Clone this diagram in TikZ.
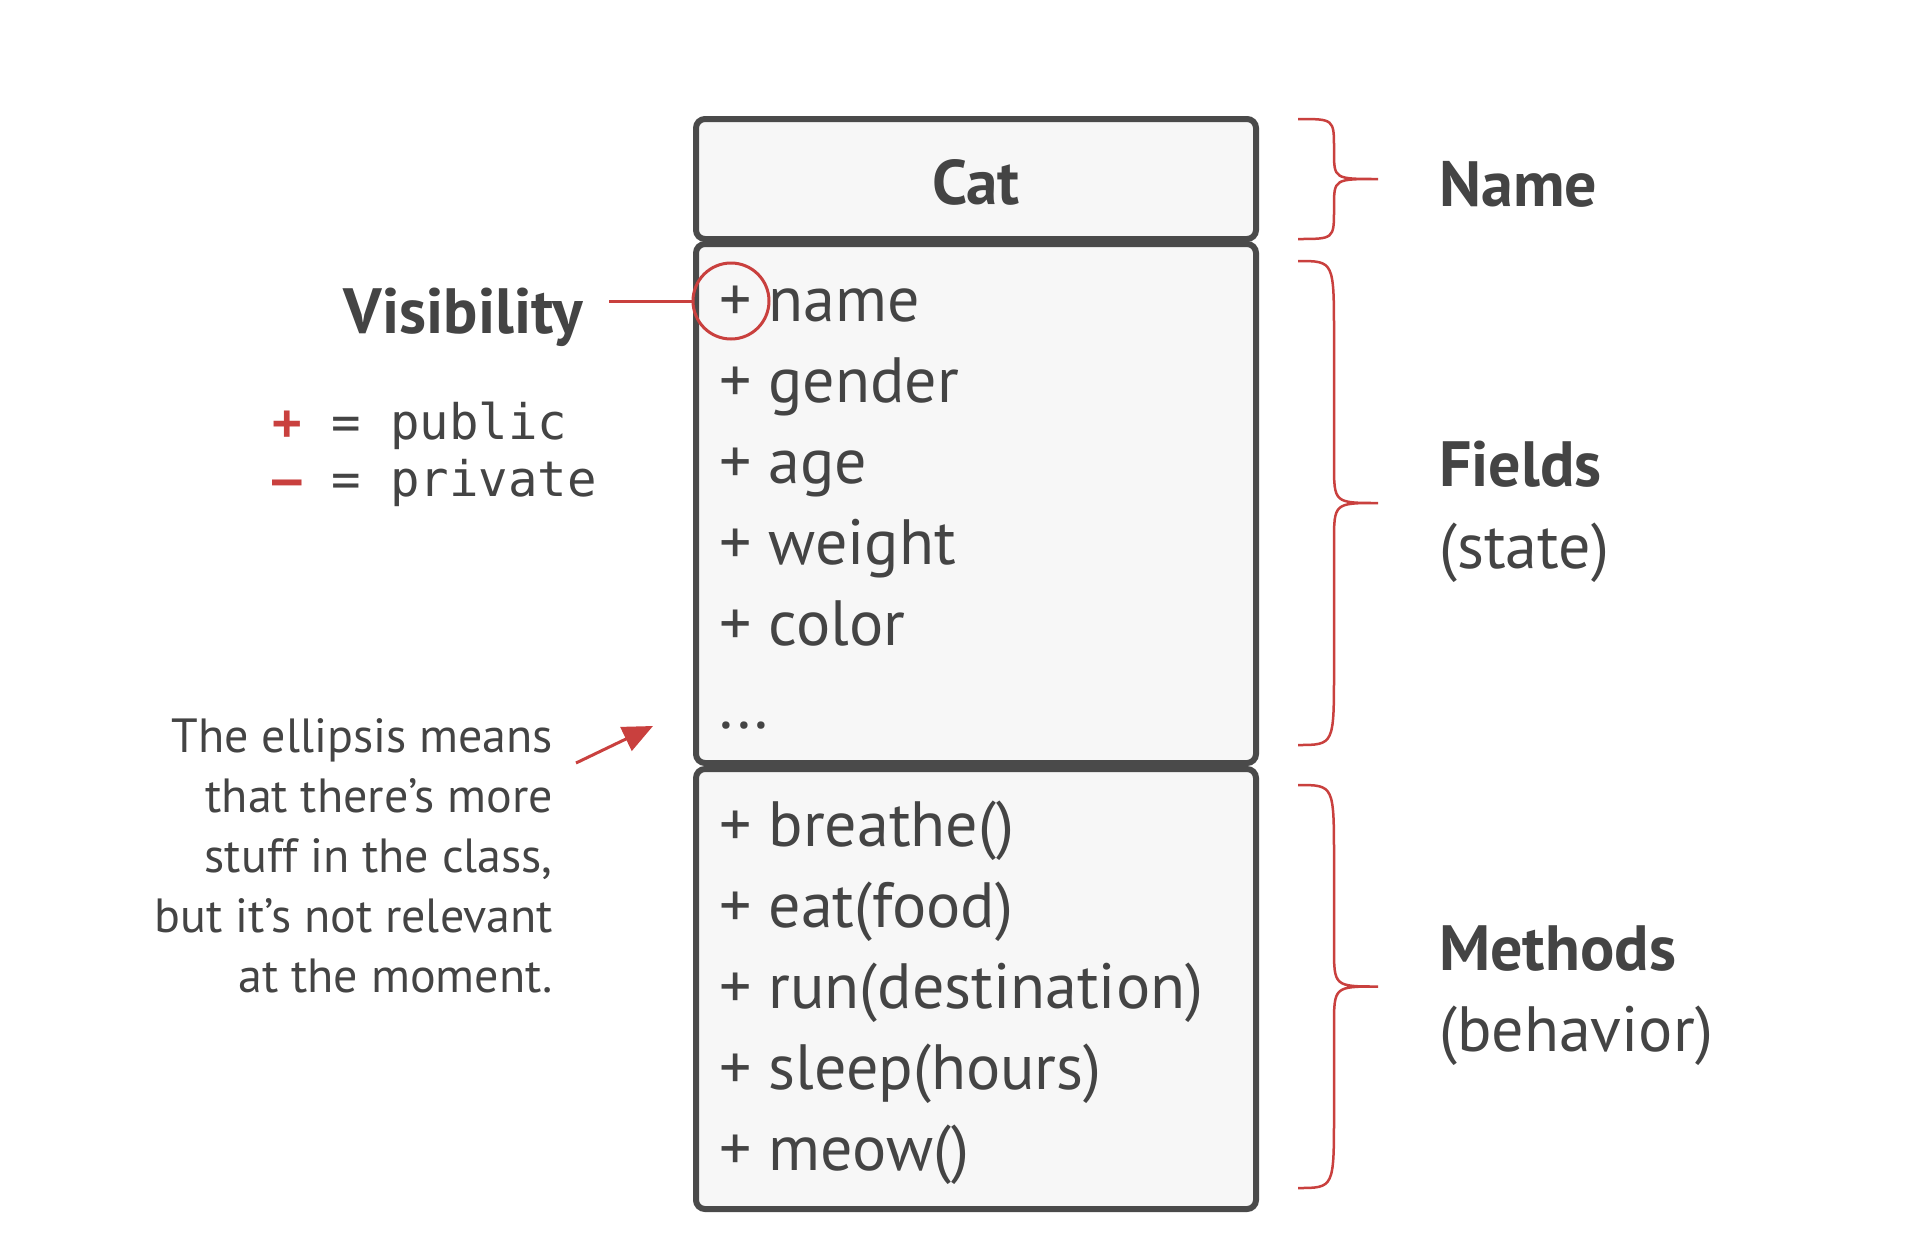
\documentclass[tikz,border=0pt]{standalone}
\usepackage{fontspec}
\setmainfont{PT Sans}
\setmonofont{DejaVu Sans Mono}
\usepackage{tikz}
\usetikzlibrary{arrows.meta, positioning, calc}
\definecolor{catInk}{HTML}{444444}
\definecolor{catRed}{HTML}{C9403E}
\definecolor{catLine}{HTML}{4A4A4A}
\definecolor{catFill}{HTML}{F7F7F7}

\begin{document}
\begin{tikzpicture}[x=1pt, y=-1pt, text=catInk,
  compart/.style={draw=catLine, fill=catFill, line width=6pt, rounded corners=9pt,
                  minimum width=560pt, inner sep=0pt},
  member/.style={anchor=mid west, font=\fontsize{64}{64}\selectfont, inner sep=0pt},
  heading/.style={anchor=mid west, font=\fontsize{64}{64}\selectfont\bfseries, inner sep=0pt},
  remark/.style={anchor=mid west, font=\fontsize{64}{64}\selectfont, inner sep=0pt},
  curly/.style={draw=catRed, line width=2.5pt},
  redline/.style={draw=catRed, line width=3pt},
]
  \fill[white] (0,0) rectangle (1920,1248);
  \useasboundingbox (0,0) rectangle (1920,1248);
  \def\xc{976}\def\xt{719}\def\xb{1298}\def\xm{1334}\def\xp{1378}

  % the class box
  \node[compart, minimum height=120pt] (cname) at (\xc,179) {};
  \node[compart, minimum height=519pt] (cfields) at (\xc,503.5) {};
  \node[compart, minimum height=440pt] (cmethods) at (\xc,989) {};
  \node[font=\fontsize{63}{63}\selectfont\bfseries, inner sep=0pt] (cattitle) at (\xc,182) {Cat};
  \foreach \txt [count=\i] in {name, gender, age, weight, color}
    \node[member] (field\i) at (\xt,{238+81*\i}) {+ \txt};
  \node[member] (fielddots) at (\xt,726) {...};
  \foreach \txt [count=\i] in {breathe(), eat(food), run(destination), sleep(hours), meow()}
    \node[member] (method\i) at (\xt,{763+81*\i}) {+ \txt};

  % visibility
  \node[font=\fontsize{64}{64}\selectfont\bfseries, anchor=mid east, inner sep=0pt] (vis) at (583,331) {Visibility};
  \node[draw=catRed, line width=3pt, circle, minimum size=76pt, inner sep=0pt] (plusring) at (731,301) {};
  \coordinate (vislead) at (609,301);
  \draw[redline] (vislead) -- (plusring);
  \node[anchor=mid west, font=\fontsize{49}{49}\selectfont\ttfamily, inner sep=0pt] (pubkey) at (272,437)
    {\textcolor{catRed}{\textbf{+}} = public};
  \node[anchor=mid west, font=\fontsize{49}{49}\selectfont\ttfamily, inner sep=0pt] (privkey) at (272,494)
    {\textcolor{catRed}{\textbf{–}} = private};

  % note about the ellipsis
  \node[anchor=north east, align=right, font=\fontsize{48}{60}\selectfont, inner sep=0pt] (ellnote) at (553,718)
    {The ellipsis means\\that there’s more\\stuff in the class,\\but it’s not relevant\\at the moment.};
  \coordinate (dotsaim) at (653,726);
  \draw[redline, -{Triangle[length=30pt,width=26pt]}] ([shift={(23,45)}]ellnote.north east) -- (dotsaim);

  % braces and their labels
  \foreach \ya/\yb/\ra/\rb in {119/239/30/28, 261/745/75/40, 785/1188/75/40}{
    \pgfmathsetmacro\ym{(\ya+\yb)/2}
    \draw[curly] (\xb,\ya) .. controls (\xm,\ya) .. (\xm,{\ya+\ra}) -- (\xm,{\ym-\rb})
      .. controls (\xm,\ym) .. (\xp,\ym) .. controls (\xm,\ym) .. (\xm,{\ym+\rb})
      -- (\xm,{\yb-\ra}) .. controls (\xm,\yb) .. (\xb,\yb);
  }
  \node[heading] (lblname) at (1439,204) {Name};
  \node[heading] (lblfields) at (1439,484) {Fields};
  \node[remark] (lblstate) at (1439,566) {(state)};
  \node[heading] (lblmethods) at (1439,968) {Methods};
  \node[remark] (lblbehavior) at (1439,1049) {(behavior)};
\end{tikzpicture}
\end{document}
